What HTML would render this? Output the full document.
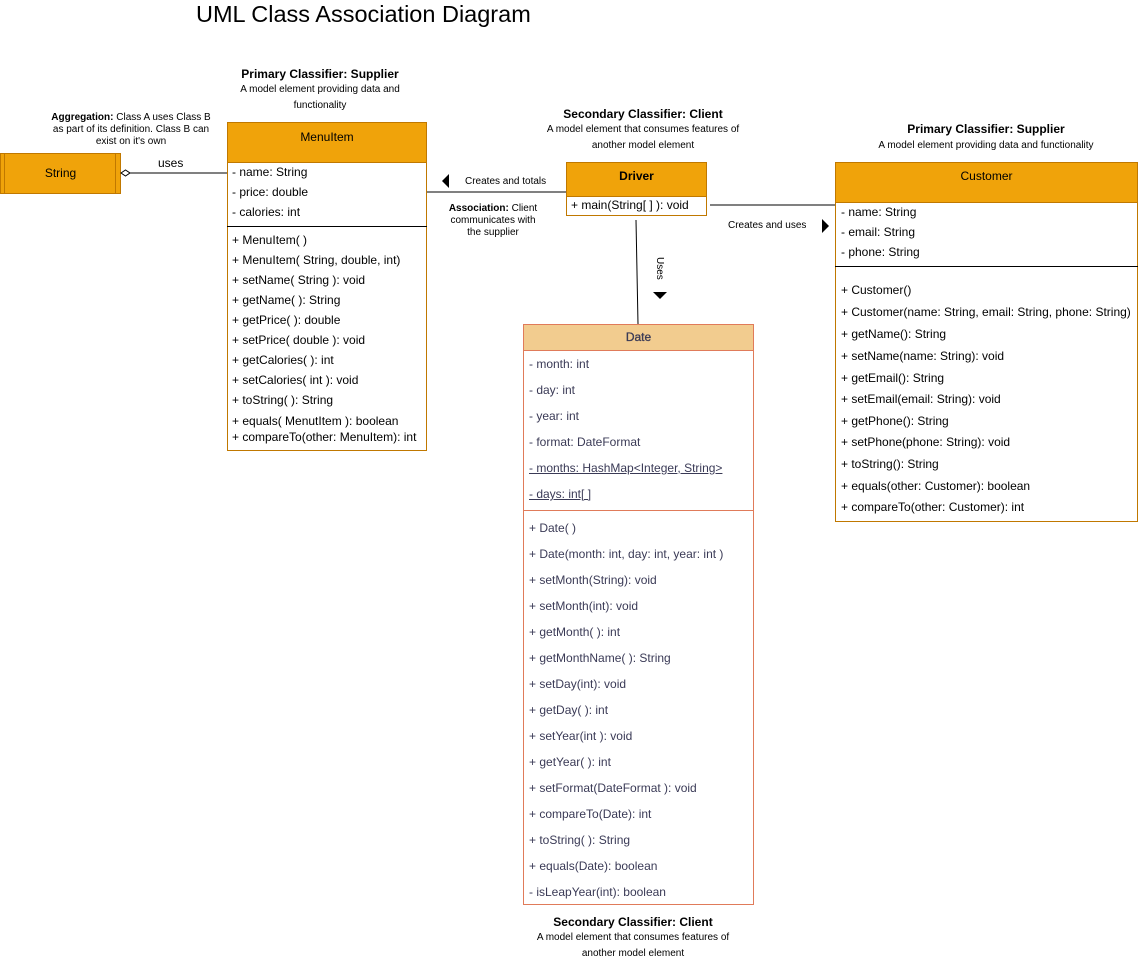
<!DOCTYPE html>
<html><head><meta charset="utf-8">
<style>
*{margin:0;padding:0;box-sizing:border-box}
body{width:1138px;height:959px;background:#fff;position:relative;font-family:"Liberation Sans",Arial,sans-serif;color:#000;overflow:hidden}
.a{position:absolute;white-space:nowrap}
.t{position:absolute;font-size:12px;line-height:14px;white-space:nowrap}
.c{text-align:center}
.box{position:absolute;border:1px solid #c07800;background:#fff}
.hd{position:absolute;background:#f0a30a;border:1px solid #c07800;font-size:12px;text-align:center}
.sm{font-size:10px;line-height:16px}
.sm2{font-size:10px;line-height:12px}
.cap{font-size:12px;font-weight:bold}
</style></head><body>

<div class="a" style="left:196px;top:1px;font-size:23.5px">UML Class Association Diagram</div>

<!-- captions -->
<div class="a c cap" style="left:220px;top:67px;width:200px">Primary Classifier: Supplier</div>
<div class="a c sm" style="left:225px;top:82px;width:190px;white-space:normal">A model element providing data and functionality</div>

<div class="a c sm2" style="left:45px;top:112px;width:172px;white-space:normal"><b>Aggregation:</b> Class A uses Class B as part of its definition. Class B can exist on it's own</div>

<div class="a c cap" style="left:543px;top:107px;width:200px">Secondary Classifier: Client</div>
<div class="a c sm" style="left:533px;top:122px;width:220px;white-space:normal">A model element that consumes features of another model element</div>

<div class="a c cap" style="left:886px;top:122px;width:200px">Primary Classifier: Supplier</div>
<div class="a c sm" style="left:856px;top:138px;width:260px">A model element providing data and functionality</div>

<div class="a c cap" style="left:533px;top:915px;width:200px">Secondary Classifier: Client</div>
<div class="a c sm" style="left:523px;top:930px;width:220px;white-space:normal">A model element that consumes features of another model element</div>

<!-- String -->
<div class="hd" style="left:0;top:153px;width:121px;height:41px;line-height:39px">String</div>
<div class="a" style="left:4px;top:154px;width:1px;height:39px;background:#c07800"></div>
<div class="a" style="left:115px;top:154px;width:1px;height:39px;background:#c07800"></div>

<!-- connectors -->
<svg class="a" style="left:0;top:0" width="1138" height="959">
<line x1="130" y1="173" x2="227" y2="173" stroke="#000"/>
<path d="M121 173 L125.5 170 L130 173 L125.5 176 Z" fill="#fff" stroke="#000"/>
<line x1="427" y1="192" x2="566" y2="192" stroke="#000"/>
<path d="M442 181 L449 174 L449 188 Z" fill="#000"/>
<line x1="710" y1="205" x2="835" y2="205" stroke="#000"/>
<path d="M829 226 L822 219 L822 233 Z" fill="#000"/>
<line x1="636" y1="220" x2="638" y2="324" stroke="#000"/>
<path d="M653 292 L667 292 L660 299 Z" fill="#000"/>
</svg>
<div class="a" style="left:158px;top:156px;font-size:12px">uses</div>
<div class="a" style="left:465px;top:176px;font-size:10px">Creates and totals</div>
<div class="a c sm2" style="left:443px;top:203px;width:100px;white-space:normal"><b>Association:</b> Client communicates with the supplier</div>
<div class="a" style="left:728px;top:220px;font-size:10px">Creates and uses</div>
<div class="a" style="top:257px;font-size:10px;transform:rotate(90deg);transform-origin:0 0;left:665px">Uses</div>

<!-- MenuItem -->
<div class="box" style="left:227px;top:122px;width:200px;height:329px"></div>
<div class="hd" style="left:227px;top:122px;width:200px;height:41px;padding-top:7px">MenuItem</div>
<div class="a" style="left:227px;top:226px;width:200px;height:1px;background:#000"></div>
<div class="t" style="left:232px;top:165px">- name: String</div>
<div class="t" style="left:232px;top:185px">- price: double</div>
<div class="t" style="left:232px;top:205px">- calories: int</div>
<div class="t" style="left:232px;top:233px">+ MenuItem( )</div>
<div class="t" style="left:232px;top:253px">+ MenuItem( String, double, int)</div>
<div class="t" style="left:232px;top:273px">+ setName( String ): void</div>
<div class="t" style="left:232px;top:293px">+ getName( ): String</div>
<div class="t" style="left:232px;top:313px">+ getPrice( ): double</div>
<div class="t" style="left:232px;top:333px">+ setPrice( double ): void</div>
<div class="t" style="left:232px;top:353px">+ getCalories( ): int</div>
<div class="t" style="left:232px;top:373px">+ setCalories( int ): void</div>
<div class="t" style="left:232px;top:393px">+ toString( ): String</div>
<div class="t" style="left:232px;top:414px">+ equals( MenutItem ): boolean</div>
<div class="t" style="left:232px;top:430px">+ compareTo(other: MenuItem): int</div>

<!-- Driver -->
<div class="box" style="left:566px;top:162px;width:141px;height:54px"></div>
<div class="hd" style="left:566px;top:162px;width:141px;height:35px;padding-top:6px;font-weight:bold">Driver</div>
<div class="t" style="left:571px;top:198px">+ main(String[ ] ): void</div>

<!-- Customer -->
<div class="box" style="left:835px;top:162px;width:303px;height:360px"></div>
<div class="hd" style="left:835px;top:162px;width:303px;height:41px;padding-top:6px">Customer</div>
<div class="a" style="left:835px;top:266px;width:303px;height:1px;background:#000"></div>
<div class="t" style="left:841px;top:205px">- name: String</div>
<div class="t" style="left:841px;top:225px">- email: String</div>
<div class="t" style="left:841px;top:245px">- phone: String</div>
<div class="t" style="left:841px;top:283px">+ Customer()</div>
<div class="t" style="left:841px;top:305px">+ Customer(name: String, email: String, phone: String)</div>
<div class="t" style="left:841px;top:327px">+ getName(): String</div>
<div class="t" style="left:841px;top:349px">+ setName(name: String): void</div>
<div class="t" style="left:841px;top:371px">+ getEmail(): String</div>
<div class="t" style="left:841px;top:392px">+ setEmail(email: String): void</div>
<div class="t" style="left:841px;top:414px">+ getPhone(): String</div>
<div class="t" style="left:841px;top:435px">+ setPhone(phone: String): void</div>
<div class="t" style="left:841px;top:457px">+ toString(): String</div>
<div class="t" style="left:841px;top:479px">+ equals(other: Customer): boolean</div>
<div class="t" style="left:841px;top:500px">+ compareTo(other: Customer): int</div>

<!-- Date -->
<div class="a" style="left:523px;top:324px;width:231px;height:581px;border:1px solid #e07b5a;background:#fff"></div>
<div class="a" style="left:523px;top:324px;width:231px;height:27px;border:1px solid #e07b5a;background:#f2cc8f;font-size:12px;text-align:center;line-height:25px;color:#3a3a56;-webkit-text-stroke:0.3px #3a3a56">Date</div>
<div class="a" style="left:523px;top:510px;width:231px;height:1px;background:#e07b5a"></div>
<div style="color:#3a3a56">
<div class="t" style="left:529px;top:357px">- month: int</div>
<div class="t" style="left:529px;top:383px">- day: int</div>
<div class="t" style="left:529px;top:409px">- year: int</div>
<div class="t" style="left:529px;top:435px">- format: DateFormat</div>
<div class="t" style="left:529px;top:461px;text-decoration:underline">- months: HashMap&lt;Integer, String&gt;</div>
<div class="t" style="left:529px;top:487px;text-decoration:underline">- days: int[ ]</div>
<div class="t" style="left:529px;top:521px">+ Date( )</div>
<div class="t" style="left:529px;top:547px">+ Date(month: int, day: int, year: int )</div>
<div class="t" style="left:529px;top:573px">+ setMonth(String): void</div>
<div class="t" style="left:529px;top:599px">+ setMonth(int): void</div>
<div class="t" style="left:529px;top:625px">+ getMonth( ): int</div>
<div class="t" style="left:529px;top:651px">+ getMonthName( ): String</div>
<div class="t" style="left:529px;top:677px">+ setDay(int): void</div>
<div class="t" style="left:529px;top:703px">+ getDay( ): int</div>
<div class="t" style="left:529px;top:729px">+ setYear(int ): void</div>
<div class="t" style="left:529px;top:755px">+ getYear( ): int</div>
<div class="t" style="left:529px;top:781px">+ setFormat(DateFormat ): void</div>
<div class="t" style="left:529px;top:807px">+ compareTo(Date): int</div>
<div class="t" style="left:529px;top:833px">+ toString( ): String</div>
<div class="t" style="left:529px;top:859px">+ equals(Date): boolean</div>
<div class="t" style="left:529px;top:885px">- isLeapYear(int): boolean</div>
</div>

</body></html>
